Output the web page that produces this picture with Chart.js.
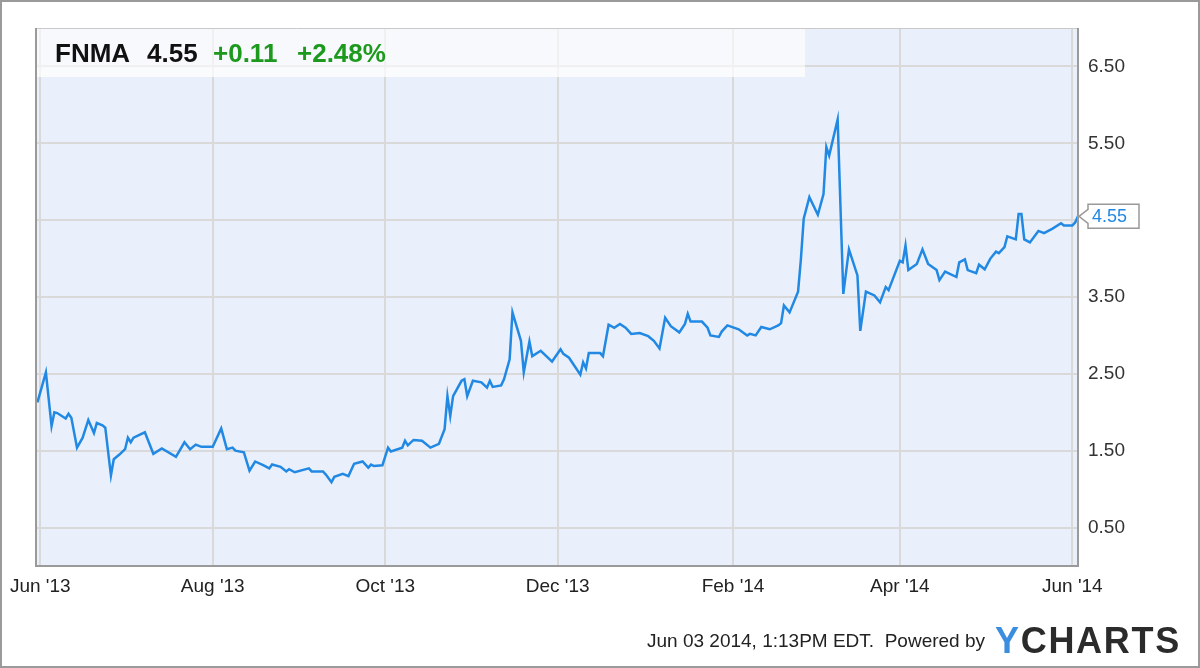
<!DOCTYPE html>
<html>
<head>
<meta charset="utf-8">
<title>FNMA</title>
<script src="https://cdn.jsdelivr.net/npm/chart.js@4.4.1/dist/chart.umd.min.js"></script>
<style>
  body { margin: 0; background: #fff; }
</style>
</head>
<body>
<canvas id="fnmaChart" width="1200" height="668"></canvas>
<script>
// x values are days counted from Jun 1 2013
var days = [-1,2,4,5,6,9,10,11,13,15,
  17,19,20,22,23,25,26,28,30,31,
  32,33,37,40,43,48,51,53,55,57,
  61,64,66,68,69,72,74,76,79,81,
  82,85,87,88,90,95,96,100,101,103,
  104,107,109,111,114,116,117,118,121,123,
  124,128,129,130,132,135,138,141,143,144,
  145,146,149,150,151,153,156,158,159,160,
  163,164,166,167,170,171,173,174,177,181,
  184,185,187,191,192,193,194,198,199,201,
  203,205,207,209,212,215,217,219,221,223,
  226,228,229,230,234,236,237,240,241,243,
  247,250,251,253,255,258,261,262,263,265,
  268,269,270,272,275,277,278,279,282,284,
  286,289,290,292,295,297,299,300,304,305,
  306,307,310,312,314,317,318,320,324,325,
  327,328,331,332,334,336,338,339,341,342,
  345,346,347,348,350,353,355,358,361,362,
  365,366,367];

var prices = [2.13,2.52,1.82,2.00,1.99,1.92,1.98,1.93,1.54,1.67,
  1.90,1.73,1.86,1.83,1.80,1.18,1.39,1.45,1.52,1.67,
  1.61,1.67,1.74,1.46,1.53,1.42,1.61,1.52,1.58,1.55,
  1.55,1.79,1.52,1.54,1.50,1.48,1.24,1.36,1.31,1.27,
  1.32,1.29,1.23,1.26,1.22,1.27,1.23,1.23,1.19,1.09,
  1.16,1.20,1.17,1.33,1.36,1.28,1.32,1.30,1.31,1.54,
  1.49,1.54,1.63,1.57,1.64,1.63,1.54,1.59,1.78,2.21,
  1.95,2.21,2.41,2.43,2.21,2.41,2.39,2.32,2.41,2.33,
  2.35,2.43,2.69,3.30,2.93,2.52,2.92,2.73,2.80,2.66,
  2.82,2.76,2.71,2.49,2.65,2.57,2.77,2.77,2.73,3.14,
  3.10,3.15,3.10,3.02,3.03,2.99,2.93,2.83,3.23,3.12,
  3.04,3.15,3.28,3.18,3.18,3.10,3.00,2.98,3.05,3.13,
  3.08,3.00,3.02,3.00,3.11,3.08,3.13,3.16,3.39,3.30,
  3.57,3.99,4.52,4.80,4.57,4.84,5.45,5.34,5.81,3.54,
  4.12,3.78,3.06,3.57,3.52,3.43,3.63,3.59,3.97,3.95,
  4.17,3.85,3.93,4.12,3.93,3.85,3.72,3.83,3.76,3.95,
  3.99,3.85,3.81,3.92,3.86,4.00,4.09,4.07,4.15,4.29,
  4.25,4.58,4.58,4.25,4.21,4.36,4.33,4.39,4.46,4.43,
  4.43,4.47,4.55];

var monthTicks = [0, 61, 122, 183, 245, 304, 365];
var monthLabels = ["Jun '13", "Aug '13", "Oct '13", "Dec '13", "Feb '14", "Apr '14", "Jun '14"];
var priceTicks = [0.5, 1.5, 2.5, 3.5, 4.5, 5.5, 6.5];

var ticker = 'FNMA';
var lastPrice = '4.55';
var change = '+0.11';
var changePct = '+2.48%';
var stamp = 'Jun 03 2014, 1:13PM EDT.  Powered by';

var font = '"Liberation Sans", Arial, sans-serif';
var lineBlue = '#2189e3';

var points = days.map(function(d, i) {
  return { x: d, y: prices[i] };
});

var decor = {
  id: 'decor',
  beforeDraw: function(chart) {
    var c = chart.ctx, a = chart.chartArea;
    c.save();
    c.fillStyle = '#fff';
    c.fillRect(0, 0, chart.width, chart.height);
    c.fillStyle = '#eaf0fb';
    c.fillRect(a.left, a.top, a.right - a.left, a.bottom - a.top);
    c.restore();
  },
  afterDraw: function(chart) {
    var c = chart.ctx, a = chart.chartArea;
    c.save();

    // header panel
    c.fillStyle = 'rgba(255,255,255,0.6)';
    c.fillRect(a.left, a.top, 769, 49);
    c.fillStyle = 'rgba(255,255,255,0.3)';
    c.fillRect(a.left, a.top + 40, 769, 9);
    c.font = 'bold 26px ' + font;
    c.textBaseline = 'alphabetic';
    c.textAlign = 'left';
    c.fillStyle = '#111';
    c.fillText(ticker, 55, 62);
    c.fillText(lastPrice, 147, 62);
    c.fillStyle = '#1d9a1d';
    c.fillText(change, 213, 62);
    c.fillText(changePct, 297, 62);

    // plot frame
    c.strokeStyle = '#c9c9c9';
    c.lineWidth = 1;
    c.beginPath();
    c.moveTo(a.left, a.top + 0.5);
    c.lineTo(a.right, a.top + 0.5);
    c.stroke();
    c.strokeStyle = '#9a9a9a';
    c.lineWidth = 2;
    c.beginPath();
    c.moveTo(a.left, a.top);
    c.lineTo(a.left, a.bottom);
    c.lineTo(a.right, a.bottom);
    c.lineTo(a.right, a.top);
    c.stroke();

    // last price flag
    var fy = chart.scales.y.getPixelForValue(prices[prices.length - 1]);
    var fx = a.right + 1;
    c.beginPath();
    c.moveTo(fx, fy);
    c.lineTo(fx + 9, fy - 7);
    c.lineTo(fx + 9, fy - 12);
    c.lineTo(fx + 60, fy - 12);
    c.lineTo(fx + 60, fy + 12);
    c.lineTo(fx + 9, fy + 12);
    c.lineTo(fx + 9, fy + 7);
    c.closePath();
    c.fillStyle = '#fff';
    c.fill();
    c.strokeStyle = '#999';
    c.lineWidth = 1.5;
    c.stroke();
    c.fillStyle = lineBlue;
    c.font = '18px ' + font;
    c.textBaseline = 'middle';
    c.fillText(lastPrice, fx + 13, fy + 1);

    // footer
    c.textBaseline = 'alphabetic';
    c.textAlign = 'right';
    c.fillStyle = '#222';
    c.font = '19px ' + font;
    c.fillText(stamp, 985, 647);
    c.textAlign = 'left';
    c.font = 'bold 36px ' + font;
    var logo = 'YCHARTS', lx = 995;
    for (var i = 0; i < logo.length; i++) {
      c.fillStyle = i === 0 ? '#3b8de0' : '#2b2b2b';
      c.fillText(logo[i], lx, 653);
      lx += c.measureText(logo[i]).width + 1.7;
    }

    // outer border
    c.strokeStyle = '#9a9a9a';
    c.lineWidth = 2;
    c.strokeRect(1, 1, chart.width - 2, chart.height - 2);
    c.restore();
  }
};

const config = {
  type: 'line',
  data: {
    datasets: [{
      label: ticker,
      data: points,
      borderColor: lineBlue,
      borderWidth: 2.5,
      pointRadius: 0,
      tension: 0,
      fill: false
    }]
  },
  options: {
    responsive: false,
    animation: false,
    layout: { padding: { left: 36, top: 28, right: 0, bottom: 0 } },
    plugins: { legend: { display: false }, tooltip: { enabled: false } },
    scales: {
      x: {
        type: 'linear',
        min: -1.5,
        max: 367,
        afterBuildTicks: function(scale) {
          scale.ticks = monthTicks.map(function(v) { return { value: v }; });
        },
        afterFit: function(scale) { scale.height = 102; },
        ticks: {
          autoSkip: false,
          maxRotation: 0,
          padding: 9,
          color: '#222',
          font: { family: font, size: 19 },
          callback: function(v) { return monthLabels[monthTicks.indexOf(v)]; }
        },
        grid: { color: '#d9d9d9', lineWidth: 2, drawTicks: false },
        border: { display: false }
      },
      y: {
        position: 'right',
        min: 0,
        max: 7,
        afterBuildTicks: function(scale) {
          scale.ticks = priceTicks.map(function(v) { return { value: v }; });
        },
        afterFit: function(scale) { scale.width = 122; },
        ticks: {
          padding: 10,
          color: '#333',
          font: { family: font, size: 19 },
          callback: function(v) { return v.toFixed(2); }
        },
        grid: { color: '#d9d9d9', lineWidth: 2, drawTicks: false },
        border: { display: false }
      }
    }
  },
  plugins: [decor]
};

new Chart(document.getElementById('fnmaChart'), config);
</script>
</body>
</html>
